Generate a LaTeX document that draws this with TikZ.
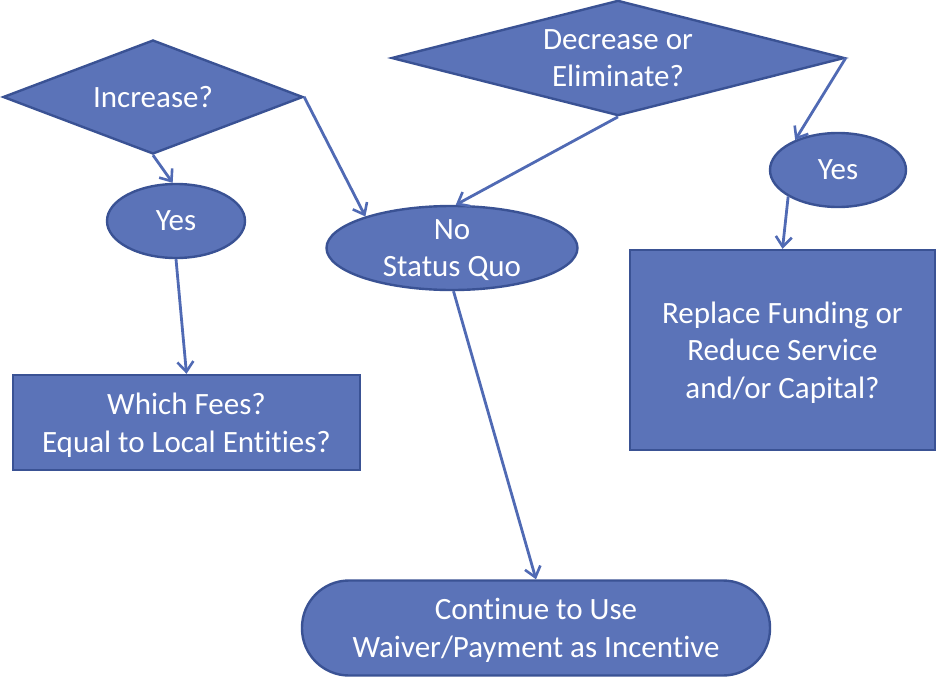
\documentclass[tikz,border=0pt]{standalone}
\usepackage{fontspec}
\setmainfont[Ligatures=NoCommon]{Carlito}
\usetikzlibrary{shapes.geometric,arrows.meta}
\definecolor{boxfill}{RGB}{91,115,184}
\definecolor{boxline}{RGB}{58,82,148}
\definecolor{conn}{RGB}{80,106,180}
\tikzset{
  base/.style={fill=boxfill,draw=boxline,line width=2.4pt,text=white,inner sep=0pt,
    align=center,font=\fontsize{31}{37.5}\selectfont},
  multi/.style={text depth=0pt},
  decide/.style={base,shape=diamond,aspect=2.6},
  oval/.style={base,shape=ellipse},
  boxnode/.style={base,shape=rectangle},
  pill/.style={base,shape=rectangle,rounded corners=47pt},
  conn/.style={draw=conn,line width=2.8pt,-{Straight Barb[length=10pt,width=16pt,line width=2.6pt]}}
}
\begin{document}
\begin{tikzpicture}[x=1pt,y=-1pt]
\useasboundingbox (0,0) rectangle (937,677);
\node[decide,minimum width=300pt,minimum height=114pt] (inc) at (153,97) {Increase?};
\node[decide,minimum width=453pt,minimum height=114pt] (dec) at (618,58) {Decrease or\\Eliminate?};
\node[oval,minimum width=138pt,minimum height=74pt] (yesL) at (176,221) {Yes};
\node[oval,minimum width=136pt,minimum height=74pt] (yesR) at (838,170) {Yes};
\node[oval,multi,minimum width=251pt,minimum height=84pt] (no) at (452,248) {No\\Status Quo};
\node[boxnode,multi,minimum width=347pt,minimum height=95pt] (wf) at (186.5,422.5) {Which Fees?\\Equal to Local Entities?};
\node[boxnode,multi,minimum width=305pt,minimum height=200pt] (rep) at (782.5,350) {Replace Funding or\\Reduce Service\\and/or Capital?};
\node[pill,multi,minimum width=468pt,minimum height=95pt] (cont) at (536,628) {Continue to Use\\Waiver/Payment as Incentive};
\draw[conn] (inc.south) -- (yesL.95);
\draw[conn] (yesL.south) -- (wf.north);
\draw[conn] (inc.east) -- (no.160);
\draw[conn] (dec.south) -- (no.85);
\draw[conn] (dec.east) -- (yesR.145);
\draw[conn] (yesR.208) -- (rep.north);
\draw[conn] (no.-88) -- (cont.north);
\end{tikzpicture}
\end{document}
